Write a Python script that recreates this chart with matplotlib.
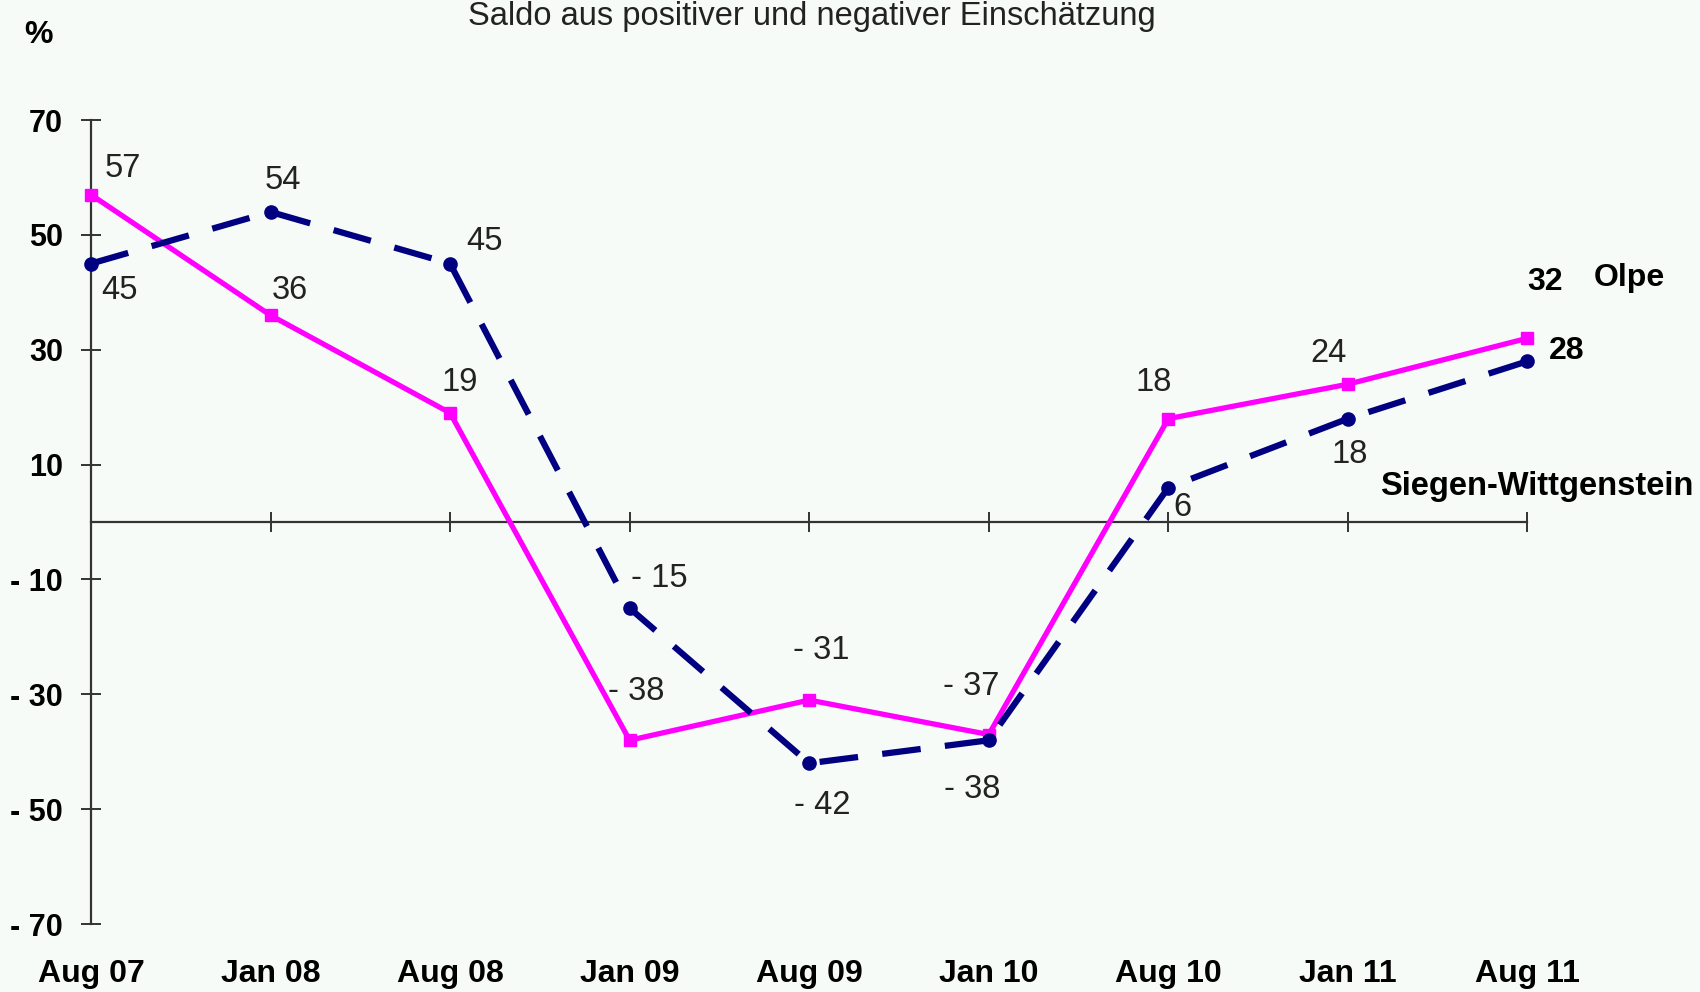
import matplotlib.pyplot as plt

plt.rcParams['font.family'] = ['Liberation Sans', 'DejaVu Sans']

periods = ['Aug 07', 'Jan 08', 'Aug 08', 'Jan 09', 'Aug 09',
           'Jan 10', 'Aug 10', 'Jan 11', 'Aug 11']
olpe = [57, 36, 19, -38, -31, -37, 18, 24, 32]
siegen = [45, 54, 45, -15, -42, -38, 6, 18, 28]
y_ticks = [70, 50, 30, 10, -10, -30, -50, -70]

# label offsets in pixels (dx, dy) relative to each point
olpe_offsets = [(32, 26), (19, 25), (10, 30), (7, 49), (12, 50),
                (-18, 48), (-15, 36), (-19, 31), (18, 56)]
siegen_offsets = [(29, -27), (12, 31), (34, 22), (30, 30), (13, -42),
                  (-17, -49), (14, -20), (2, -36), (39, 10)]

BG = '#F7FBF8'
MAGENTA = '#FF00FF'
NAVY = '#000080'


def fmt(v):
    return f'- {abs(v)}' if v < 0 else str(v)


fig = plt.figure(figsize=(17, 9.92), dpi=100, facecolor=BG)
ax = fig.add_axes([0.0535, 0.0685, 0.845, 0.8105], facecolor=BG)
x = list(range(len(periods)))

ax.plot(x, olpe, color=MAGENTA, lw=3.8, marker='s', ms=8.5, zorder=3,
        clip_on=False)
ax.plot(x, siegen, color=NAVY, lw=4.5, marker='o', ms=9.5,
        dashes=(6.2, 3.9), zorder=4, clip_on=False)

for series, offsets in [(olpe, olpe_offsets), (siegen, siegen_offsets)]:
    for xi, v, (dx, dy) in zip(x, series, offsets):
        bold = xi == len(x) - 1
        ax.annotate(fmt(v), (xi, v), xytext=(dx, dy),
                    textcoords='offset pixels', ha='center', va='center',
                    fontsize=23 if bold else 23.5,
                    fontweight='bold' if bold else 'normal',
                    color='black' if bold else '#222222')

ax.set_xlim(0, len(periods) - 1)
ax.set_ylim(-70, 70)

for side in ['top', 'right']:
    ax.spines[side].set_visible(False)
ax.spines['bottom'].set_position(('data', 0))
for side in ['left', 'bottom']:
    ax.spines[side].set_color('#333333')
    ax.spines[side].set_linewidth(1.6)

ax.set_yticks(y_ticks)
ax.set_yticklabels([fmt(v) for v in y_ticks], fontsize=22, fontweight='bold')
ax.tick_params(axis='y', direction='inout', length=14, width=1.4,
               color='#333333', pad=13)
ax.set_xticks(x)
ax.set_xticklabels([])
ax.tick_params(axis='x', direction='inout', length=14, width=1.4,
               color='#333333')

sec = ax.secondary_xaxis(0)
sec.set_xticks(x)
sec.set_xticklabels(periods, fontsize=23, fontweight='bold')
sec.tick_params(length=0, pad=25)
sec.spines['bottom'].set_visible(False)

fig.text(0.4775, 0.983, 'Saldo aus positiver und negativer Einschätzung',
         ha='center', va='center', fontsize=23.5, color='#222222')
fig.text(0.014, 0.965, '%', ha='left', va='center', fontsize=23,
         fontweight='bold')

ax.annotate('Olpe', (8, 32), xytext=(102, 60), textcoords='offset pixels',
            ha='center', va='center', fontsize=23, fontweight='bold')
ax.annotate('Siegen-Wittgenstein', (8, 28), xytext=(9, -125),
            textcoords='offset pixels', ha='center', va='center',
            fontsize=23.5, fontweight='bold')

fig.savefig('out.png', dpi=100, facecolor=BG)
